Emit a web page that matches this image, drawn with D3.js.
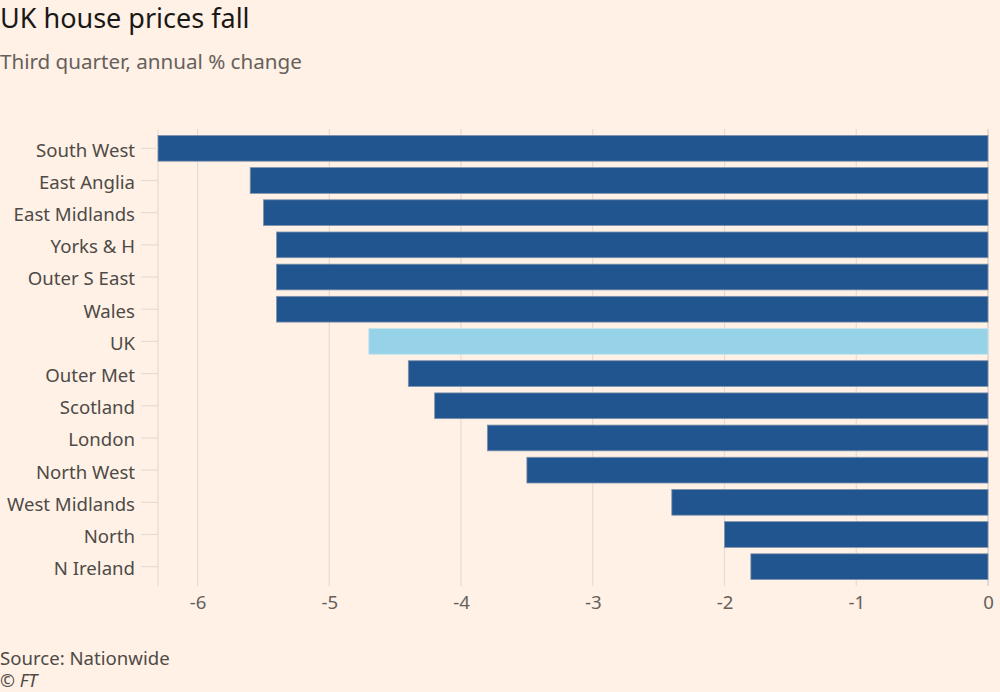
<!DOCTYPE html>
<html><head><meta charset="utf-8">
<script src="https://cdn.jsdelivr.net/npm/d3@7"></script>
<style>
html,body{margin:0;padding:0;background:#fff1e5;}
svg{display:block;font-family:"Noto Sans",sans-serif;}
</style></head>
<body>
<svg id="chart" width="1000" height="692"></svg>
<script>
const categories = ["South West","East Anglia","East Midlands","Yorks & H","Outer S East","Wales","UK","Outer Met","Scotland","London","North West","West Midlands","North","N Ireland"];
const values = [-6.3,-5.6,-5.5,-5.4,-5.4,-5.4,-4.7,-4.4,-4.2,-3.8,-3.5,-2.4,-2.0,-1.8];
const highlight = ["UK"];
const tickValues = [-6,-5,-4,-3,-2,-1,0];

const svg = d3.select("#chart");
svg.append("rect").attr("width",1000).attr("height",692).attr("fill","#fff1e5");

const x = d3.scaleLinear().domain([-6.3,0]).range([158,988]);
const y = d3.scaleBand().domain(categories).range([129,586]).padding(0.2);

// gridlines
svg.append("g").selectAll("line").data(tickValues).join("line")
  .attr("x1",d=>x(d)).attr("x2",d=>x(d)).attr("y1",129).attr("y2",586)
  .attr("stroke",d=>d===0?"#d3cbc4":"#e6dcd3").attr("stroke-width",1.2);

// left axis line
svg.append("line").attr("x1",158).attr("x2",158).attr("y1",129).attr("y2",586)
  .attr("stroke","#e6dcd3").attr("stroke-width",1.2);

// bars
svg.append("g").selectAll("rect").data(categories).join("rect")
  .attr("x",(d,i)=>x(values[i]))
  .attr("y",d=>y(d))
  .attr("width",(d,i)=>x(0)-x(values[i]))
  .attr("height",y.bandwidth())
  .attr("fill",d=>highlight.includes(d)?"#96d3e8":"#215590")
  .attr("stroke",d=>highlight.includes(d)?"#c6e4ee":"#7f93ab")
  .attr("stroke-width",0.8);

// y axis
const ya = svg.append("g").attr("transform","translate(158,0)")
  .call(d3.axisLeft(y).tickSize(17).tickPadding(6));
ya.select(".domain").remove();
ya.selectAll(".tick line").attr("stroke","#e6dcd3").attr("stroke-width",1.2);
ya.selectAll(".tick text").attr("fill","#4e4a47").style("font-size","18.6px")
  .style("font-family","'Noto Sans',sans-serif").attr("dy","0.45em");

// x axis
const xa = svg.append("g").attr("transform","translate(0,586)")
  .call(d3.axisBottom(x).tickValues(tickValues).tickSize(0).tickPadding(10).tickFormat(d=>String(d)));
xa.select(".domain").remove();
xa.selectAll(".tick text").attr("fill","#66605c").style("font-size","18.6px")
  .style("font-family","'Noto Sans',sans-serif").attr("dy","0.71em");

// titles
svg.append("text").attr("x",0).attr("y",28).text("UK house prices fall")
  .attr("fill","#1a1817").style("font-size","27px");
svg.append("text").attr("x",0).attr("y",69).text("Third quarter, annual % change")
  .attr("fill","#66605c").style("font-size","20.6px");
svg.append("text").attr("x",0).attr("y",665).text("Source: Nationwide")
  .attr("fill","#4e4a47").style("font-size","18.6px");
svg.append("text").attr("x",0).attr("y",687).text("© FT")
  .attr("fill","#4e4a47").style("font-size","18px").style("font-style","italic");
</script>
</body></html>
